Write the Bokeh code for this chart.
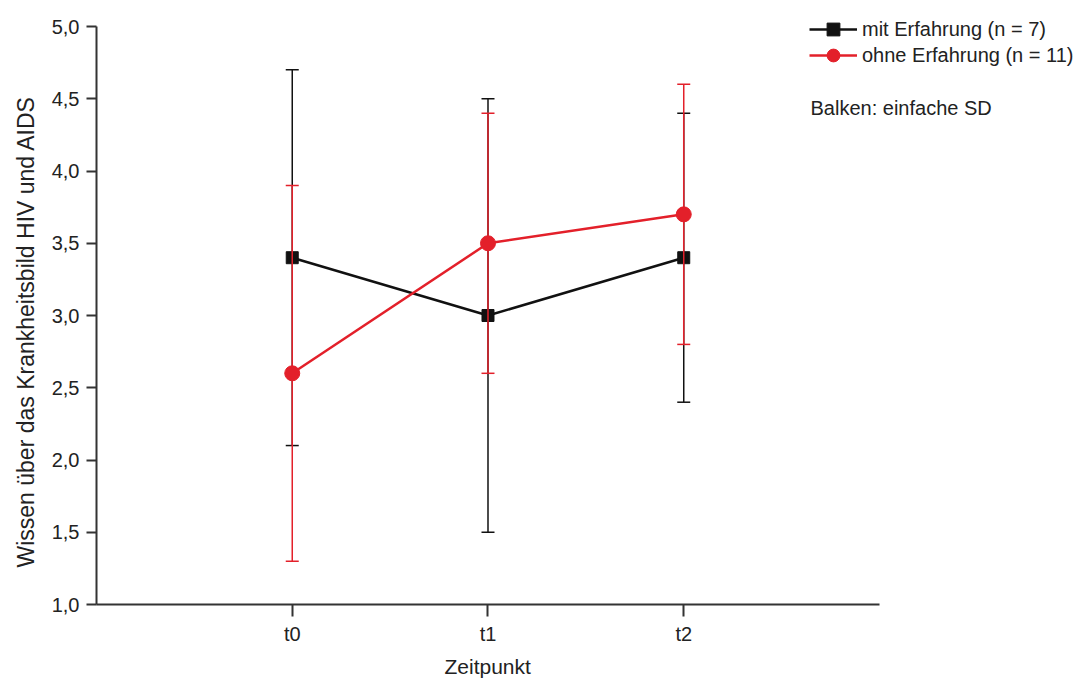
from bokeh.plotting import figure
from bokeh.models import (Range1d, FixedTicker, CustomJSTickFormatter, Legend, LegendItem, Label, Title)
from bokeh.embed import file_html
from bokeh.resources import INLINE

# ---- data ----
categories = ["t0", "t1", "t2"]
mit_mean = [3.4, 3.0, 3.4]
mit_sd = [1.3, 1.5, 1.0]
ohne_mean = [2.6, 3.5, 3.7]
ohne_sd = [1.3, 0.9, 0.9]
y_ticks = [1.0, 1.5, 2.0, 2.5, 3.0, 3.5, 4.0, 4.5, 5.0]
label_mit = "mit Erfahrung (n = 7)"
label_ohne = "ohne Erfahrung (n = 11)"
note = "Balken: einfache SD"
x_title = "Zeitpunkt"
y_title = "Wissen über das Krankheitsbild HIV und AIDS"

xs = list(range(len(categories)))
RED = "#e3202a"
BLACK = "#111111"
FONT = "Liberation Sans"
TXT = "#222222"

p = figure(width=1085, height=684, output_backend="svg", toolbar_location=None,
           x_range=Range1d(-1, 4.0524), y_range=Range1d(1.0, 5.18),
           min_border_left=96, min_border_right=0, min_border_top=0, min_border_bottom=80)
p.outline_line_color = None
p.xgrid.visible = False
p.ygrid.visible = False
p.background_fill_color = "white"
p.border_fill_color = "white"

# axes
p.xaxis.ticker = FixedTicker(ticks=xs)
p.xaxis.major_label_overrides = {i: c for i, c in enumerate(categories)}
p.xaxis.bounds = (-1, 3)
p.yaxis.bounds = (1.0, 5.0)
p.xaxis.minor_tick_line_color = None
p.yaxis.minor_tick_line_color = None
p.yaxis.ticker = FixedTicker(ticks=y_ticks)
p.yaxis.formatter = CustomJSTickFormatter(code="return tick.toFixed(1).replace('.', ',');")
for ax in (p.xaxis[0], p.yaxis[0]):
    ax.axis_line_color = "#333333"
    ax.axis_line_width = 2
    ax.major_tick_line_color = "#333333"
    ax.major_tick_line_width = 2
    ax.major_tick_in = 0
    ax.major_label_text_font = FONT
    ax.major_label_text_font_size = "20px"
    ax.major_label_text_color = TXT
p.xaxis.major_tick_out = 12
p.yaxis.major_tick_out = 10
p.xaxis.major_label_standoff = 6
p.yaxis.major_label_standoff = 7

p.add_layout(Title(text=x_title, align="left", offset=348, standoff=0, padding=(0, 5),
                   text_font=FONT, text_font_size="21px", text_font_style="normal",
                   text_color=TXT), "below")
p.add_layout(Title(text=y_title, align="left", offset=37, standoff=20,
                   text_font=FONT, text_font_size="23px", text_font_style="normal",
                   text_color=TXT), "left")

def errorbars(means, sds, color):
    lo = [m - s for m, s in zip(means, sds)]
    hi = [m + s for m, s in zip(means, sds)]
    p.segment(x0=xs, y0=lo, x1=xs, y1=hi, line_color=color, line_width=1.5)
    p.scatter(x=xs + xs, y=lo + hi, marker="dash", size=13, line_color=color, line_width=1.5)

# black series
errorbars(mit_mean, mit_sd, BLACK)
l1 = p.line(xs, mit_mean, line_color=BLACK, line_width=2.5)
m1 = p.scatter(xs, mit_mean, marker="square", size=12, fill_color=BLACK, line_color=BLACK)

# red series
errorbars(ohne_mean, ohne_sd, RED)
l2 = p.line(xs, ohne_mean, line_color=RED, line_width=2.5)
m2 = p.scatter(xs, ohne_mean, marker="circle", size=15, fill_color=RED, line_color=RED)

def make_legend(item, loc):
    return Legend(items=[item], location=loc, orientation="vertical",
                  border_line_color=None, background_fill_alpha=0,
                  padding=0, margin=0, spacing=0, label_height=20, glyph_height=32,
                  glyph_width=48, label_standoff=5,
                  label_text_font=FONT, label_text_font_size="20px", label_text_color=TXT)

p.add_layout(make_legend(LegendItem(label=label_mit, renderers=[l1, m1]), (713, 559)), "center")
p.add_layout(make_legend(LegendItem(label=label_ohne, renderers=[l2, m2]), (713, 533)), "center")

p.add_layout(Label(x=2.6475, y=4.439, text=note, text_font=FONT, text_font_size="20px",
                   text_color=TXT, text_baseline="middle", text_align="left"))

open("out.html", "w").write(file_html(p, INLINE))
